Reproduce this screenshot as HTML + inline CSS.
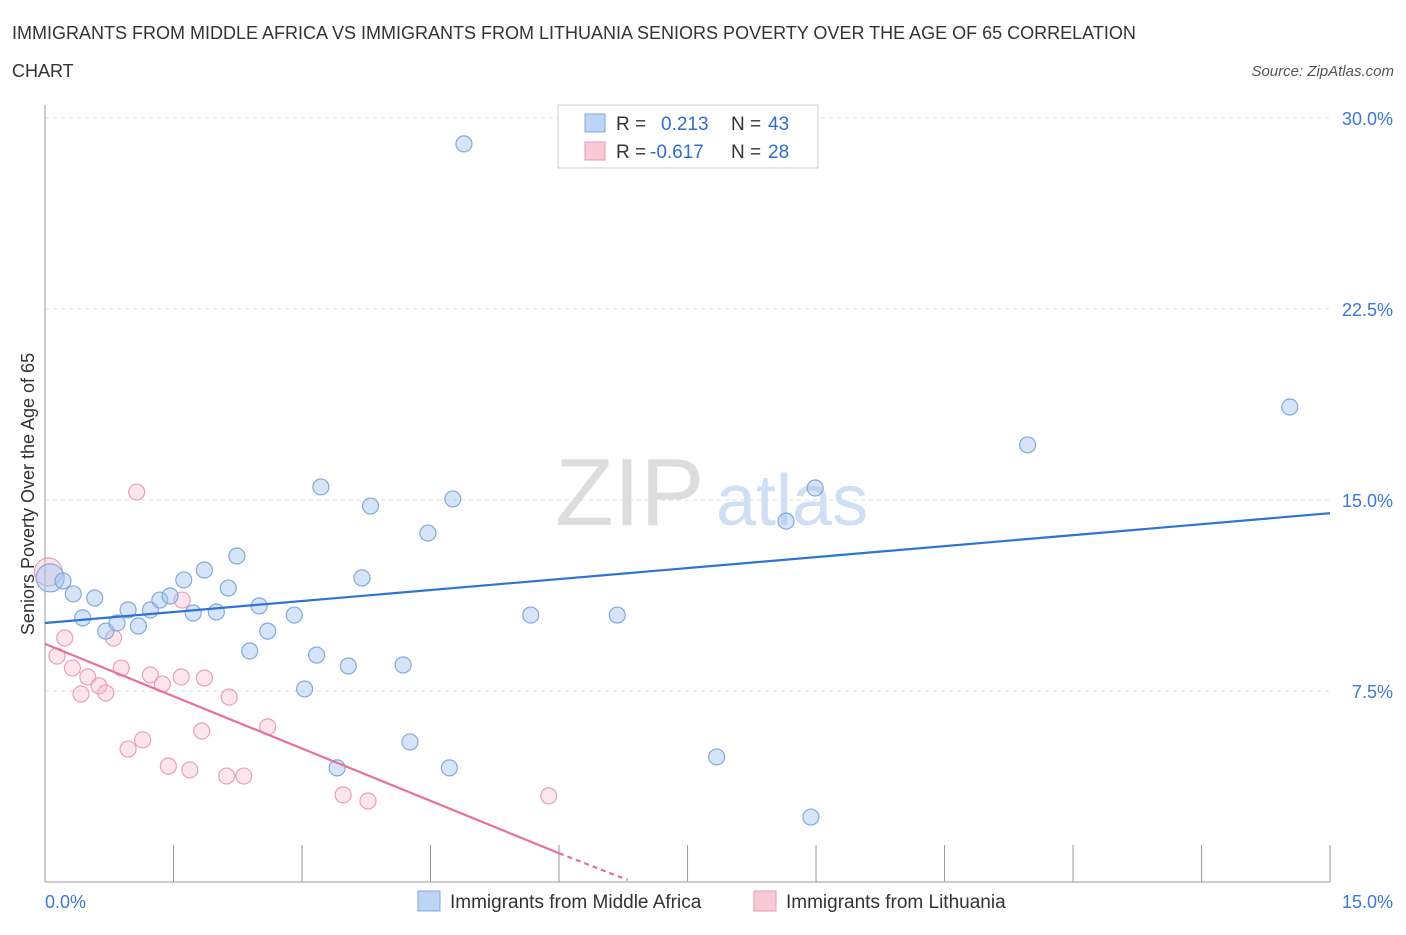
<!DOCTYPE html>
<html><head><meta charset="utf-8">
<style>
body{margin:0;background:#fff;font-family:"Liberation Sans",sans-serif;}
svg text{font-family:"Liberation Sans",sans-serif;}
</style></head>
<body>
<svg id="chart" width="1406" height="930" xmlns="http://www.w3.org/2000/svg">
<text x="12" y="39" font-size="18" fill="#333">IMMIGRANTS FROM MIDDLE AFRICA VS IMMIGRANTS FROM LITHUANIA SENIORS POVERTY OVER THE AGE OF 65 CORRELATION</text>
<text x="12" y="77" font-size="18" fill="#333">CHART</text>
<text x="1394" y="76" font-size="15" fill="#555" font-style="italic" text-anchor="end">Source: ZipAtlas.com</text>
<text x="555" y="525" font-size="96" fill="#ddd" font-family="Liberation Serif,serif">ZIP</text>
<text x="716" y="525" font-size="72" fill="#cfe0f5">atlas</text>
<text transform="translate(34,494) rotate(-90)" font-size="18" fill="#333" text-anchor="middle">Seniors Poverty Over the Age of 65</text>
<g id="grid"></g><g id="axes"></g><g id="marks"></g>
<g>
<rect x="558" y="105" width="260" height="63" fill="#fff" stroke="#ccc"/>
<rect x="585" y="114" width="20" height="18" fill="#bcd4f5" stroke="#7fa9e0"/>
<text x="616" y="130" font-size="19" fill="#333">R =</text><text x="661" y="130" font-size="19" fill="#2f6fd0">0.213</text>
<text x="731" y="130" font-size="19" fill="#333">N =</text><text x="768" y="130" font-size="19" fill="#2f6fd0">43</text>
<rect x="585" y="142" width="20" height="18" fill="#f9c9d7" stroke="#e99ab3"/>
<text x="616" y="158" font-size="19" fill="#333">R =</text><text x="650" y="158" font-size="19" fill="#2f6fd0">-0.617</text>
<text x="731" y="158" font-size="19" fill="#333">N =</text><text x="768" y="158" font-size="19" fill="#2f6fd0">28</text>
</g>
<g>
<rect x="418" y="891" width="22" height="20" fill="#bcd4f5" stroke="#7fa9e0"/>
<text x="450" y="908" font-size="19" fill="#333">Immigrants from Middle Africa</text>
<rect x="754" y="891" width="22" height="20" fill="#f9c9d7" stroke="#e99ab3"/>
<text x="786" y="908" font-size="19" fill="#333">Immigrants from Lithuania</text>
</g>
</svg>
<script>
const blueX=[0.06,0.21,0.33,0.44,0.58,0.71,0.84,0.97,1.09,1.23,1.34,1.46,1.62,1.73,1.86,2.0,2.14,2.24,2.39,2.5,2.6,2.91,3.03,3.17,3.22,3.41,3.54,3.70,3.80,4.18,4.26,4.47,4.72,4.76,4.89,5.67,6.68,7.84,8.65,8.94,8.99,11.47,14.53];
const blueY=[11.94,11.82,11.31,10.37,11.15,9.85,10.17,10.68,10.05,10.68,11.07,11.23,11.86,10.56,12.25,10.60,11.54,12.80,9.07,10.84,9.85,10.48,7.58,8.91,15.51,4.48,8.48,11.94,14.76,8.52,5.50,13.70,4.48,15.04,28.98,10.48,10.48,4.91,14.17,2.55,15.47,17.16,18.65];
const pinkX=[0.04,0.14,0.23,0.32,0.42,0.50,0.63,0.71,0.80,0.89,0.97,1.07,1.14,1.23,1.37,1.44,1.59,1.60,1.69,1.86,1.83,2.12,2.15,2.32,2.60,3.48,3.77,5.88];
const pinkY=[12.17,8.87,9.58,8.40,7.38,8.05,7.70,7.42,9.58,8.40,5.22,15.31,5.58,8.13,7.77,4.55,8.05,11.07,4.40,8.01,5.93,4.16,7.26,4.16,6.09,3.42,3.18,3.38];
const yTicks=[7.5,15,22.5,30];
const yTickLabels=["7.5%","15.0%","22.5%","30.0%"];
const blueLine=[[0,10.17],[15,14.48]];
const pinkLine=[[0,9.35],[6,1.13]];
const pinkDash=[[6,1.13],[6.8,0.08]];
const NS="http://www.w3.org/2000/svg";
const X=v=>45+v*85.67, Y=v=>882-v*25.47;
function mk(t,a,p){const e=document.createElementNS(NS,t);for(const k in a)e.setAttribute(k,a[k]);p.appendChild(e);return e;}
const grid=document.getElementById('grid'),axes=document.getElementById('axes'),marks=document.getElementById('marks');
yTicks.forEach((t,i)=>{
 const l=mk('line',{x1:45,x2:1330,y1:Y(t),y2:Y(t),stroke:'#ddd','stroke-dasharray':'4,4'},grid);
 
 
 const tx=mk('text',{x:1393,y:Y(t)+7,'font-size':18,fill:'#3b78d8','text-anchor':'end'},axes);
 tx.textContent=yTickLabels[i];
 
 
});
const ax=mk('line',{x1:45,x2:45,y1:105,y2:882,stroke:'#999'},axes);


const xa=mk('line',{x1:45,x2:1330,y1:882,y2:882,stroke:'#999'},axes);


for(let i=0;i<=10;i++){const tk=mk('line',{x1:X(i*1.5),x2:X(i*1.5),y1:845,y2:882,stroke:'#999'},axes);
 
 }
[["0.0%",45,'start'],["15.0%",1393,'end']].forEach(a=>{const t=mk('text',{x:a[1],y:908,'font-size':18,fill:'#3b78d8','text-anchor':a[2]},axes);t.textContent=a[0];
 
 });
function line(pts,col,dash,name){const l=mk('line',{x1:X(pts[0][0]),y1:Y(pts[0][1]),x2:X(pts[1][0]),y2:Y(pts[1][1]),stroke:col,'stroke-width':2.2},marks);
 if(dash)l.setAttribute('stroke-dasharray','5,4');
 
 }
pinkX.forEach((x,i)=>{const c=mk('circle',{cx:X(x),cy:Y(pinkY[i]),r:i==0?14:8,fill:'rgba(245,180,200,0.35)',stroke:'#eaa0b8','stroke-width':1.2},marks);
 
 });
blueX.forEach((x,i)=>{const c=mk('circle',{cx:X(x),cy:Y(blueY[i]),r:i==0?14:8,fill:'rgba(164,196,240,0.45)',stroke:'#82a9de','stroke-width':1.2},marks);
 
 });
line(blueLine,'#2f73d6',false,'middle-africa-trendline');
line(pinkLine,'#e8709a',false,'lithuania-trendline');
line(pinkDash,'#e8709a',true,'lithuania-trendline-extension');
</script>
</body></html>
